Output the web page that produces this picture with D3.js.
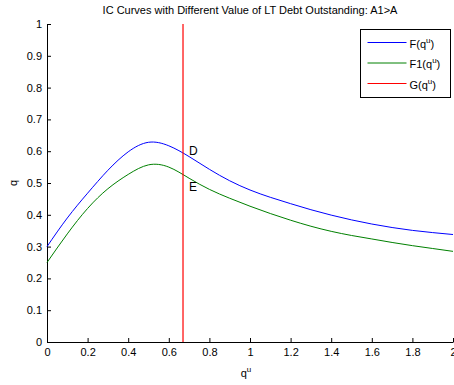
<!DOCTYPE html>
<html>
<head>
<meta charset="utf-8">
<script src="https://cdn.jsdelivr.net/npm/d3@7"></script>
<style>
  body { margin: 0; background: #fff; }
  text { font-family: "Liberation Sans", Arial, sans-serif; }
</style>
</head>
<body>
<div id="chart"></div>
<script>
// q^u values (x) and the two IC curves
const qu = [0, 0.1, 0.2, 0.3, 0.4, 0.5, 0.6, 0.7, 0.8, 0.9, 1.0,
            1.1, 1.2, 1.3, 1.4, 1.5, 1.6, 1.7, 1.8, 1.9, 2.0];
const fValues = [0.300, 0.390, 0.468, 0.540, 0.598, 0.628, 0.617, 0.583, 0.543, 0.507, 0.478,
                 0.455, 0.435, 0.416, 0.399, 0.384, 0.371, 0.360, 0.351, 0.344, 0.338];
const f1Values = [0.250, 0.340, 0.420, 0.482, 0.527, 0.557, 0.550, 0.515, 0.480, 0.452, 0.427,
                  0.404, 0.383, 0.364, 0.348, 0.335, 0.324, 0.313, 0.303, 0.294, 0.285];
// vertical line G(q^u)
const gValue = 0.67;
const xTicks = [0, 0.2, 0.4, 0.6, 0.8, 1, 1.2, 1.4, 1.6, 1.8, 2];
const yTicks = [0, 0.1, 0.2, 0.3, 0.4, 0.5, 0.6, 0.7, 0.8, 0.9, 1];

const width = 454;
const height = 385;
const margin = {top: 24, right: 1, bottom: 43, left: 47};

const svg = d3.select("#chart")
    .append("svg")
    .attr("width", width)
    .attr("height", height);

const x = d3.scaleLinear().domain([0, 2]).range([margin.left, width - margin.right]);
const y = d3.scaleLinear().domain([0, 1]).range([height - margin.bottom, margin.top]);

// axes, ticks pointing inward like matlab
svg.append("g")
    .attr("transform", `translate(0, ${y(0)})`)
    .call(d3.axisBottom(x).tickValues(xTicks).tickFormat(d3.format("~g"))
        .tickSizeInner(-4).tickSizeOuter(0).tickPadding(6));
svg.append("g")
    .attr("transform", `translate(${x(0)}, 0)`)
    .call(d3.axisLeft(y).tickValues(yTicks).tickFormat(d3.format("~g"))
        .tickSizeInner(-4).tickSizeOuter(0).tickPadding(5));
svg.selectAll(".tick text").attr("font-size", 11).attr("fill", "#000")
    .attr("font-family", "Liberation Sans, Arial, sans-serif");
svg.selectAll(".domain, .tick line").attr("stroke", "#000");

const series = [
  {name: "F", values: fValues, color: "#0000ff"},
  {name: "F1", values: f1Values, color: "#008000"}
];

const line = d3.line()
    .x((d, i) => x(qu[i]))
    .y(d => y(d))
    .curve(d3.curveNatural);

svg.selectAll(".curve")
    .data(series)
    .enter()
    .append("path")
    .attr("class", "curve")
    .attr("fill", "none")
    .attr("stroke", d => d.color)
    .attr("stroke-width", 1)
    .attr("d", d => line(d.values));

// G line
svg.append("line")
    .attr("x1", x(gValue)).attr("x2", x(gValue))
    .attr("y1", y(0)).attr("y2", y(1))
    .attr("stroke", "#ff0000")
    .attr("stroke-width", 1.2);

// point labels D and E
const interp = vals => d3.scaleLinear().domain(qu).range(vals);
svg.append("text")
    .attr("x", x(gValue) + 6)
    .attr("y", y(interp(fValues)(gValue)) + 2)
    .attr("font-size", 12)
    .text("D");
svg.append("text")
    .attr("x", x(gValue) + 6)
    .attr("y", y(interp(f1Values)(gValue)) + 16)
    .attr("font-size", 12)
    .text("E");

// title
svg.append("text")
    .attr("x", (x(0) + x(2)) / 2)
    .attr("y", 14)
    .attr("text-anchor", "middle")
    .attr("font-size", 11)
    .text("IC Curves with Different Value of LT Debt Outstanding: A1>A");

// axis labels
const xl = svg.append("text")
    .attr("x", (x(0) + x(2)) / 2 - 4)
    .attr("y", 377)
    .attr("font-size", 11)
    .attr("text-anchor", "middle");
xl.append("tspan").text("q");
xl.append("tspan").attr("dy", -5).attr("font-size", 8).text("u");

svg.append("text")
    .attr("transform", `translate(17, ${y(0.5)}) rotate(-90)`)
    .attr("text-anchor", "middle")
    .attr("font-size", 11)
    .text("q");

// legend
const legendItems = [
  {label: "F", color: "#0000ff"},
  {label: "F1", color: "#008000"},
  {label: "G", color: "#ff0000"}
];
const legend = svg.append("g").attr("transform", "translate(360.5, 29.5)");
legend.append("rect")
    .attr("width", 90).attr("height", 68)
    .attr("fill", "#fff").attr("stroke", "#000");
const li = legend.selectAll(".li")
    .data(legendItems)
    .enter()
    .append("g")
    .attr("transform", (d, i) => `translate(0, ${13 + i * 20.5})`);
li.append("line")
    .attr("x1", 7).attr("x2", 46)
    .attr("stroke", d => d.color);
const lt = li.append("text")
    .attr("x", 49).attr("y", 5)
    .attr("font-size", 11);
lt.append("tspan").text(d => d.label + "(q");
lt.append("tspan").attr("dy", -5).attr("font-size", 8).text("u");
lt.append("tspan").attr("dy", 5).text(")");
</script>
</body>
</html>
